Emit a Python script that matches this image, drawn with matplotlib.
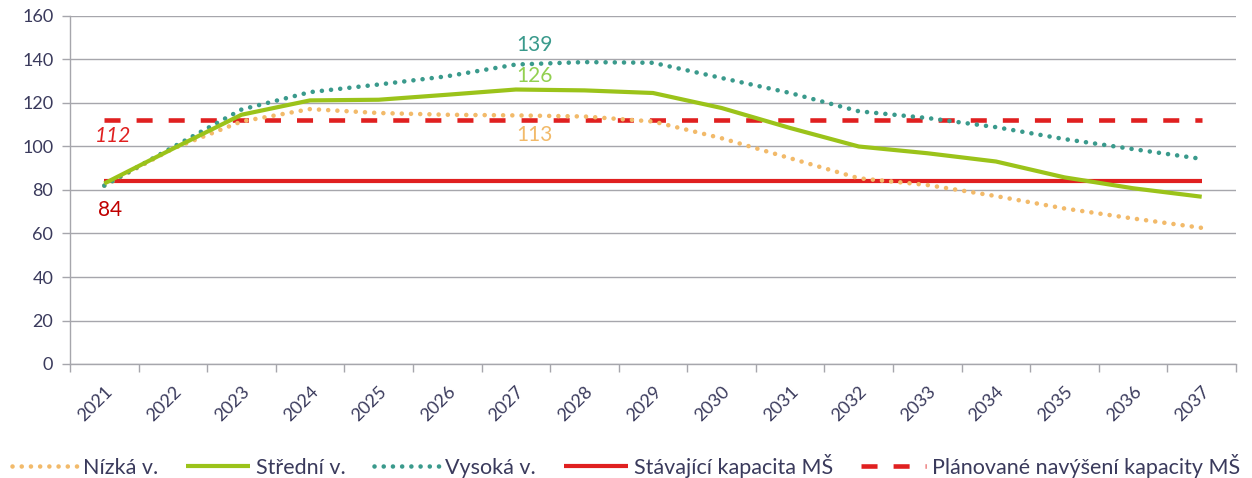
import matplotlib
matplotlib.use("Agg")
import matplotlib.pyplot as plt
import numpy as np

years = [str(y) for y in range(2021, 2038)]
nizka = [82, 99, 111.5, 117.2, 115.4, 114.6, 114.3, 113.8, 111.5, 103.8, 94.6, 85.4, 82.3, 77.2, 71.5, 66.9, 62.6]
stredni = [83, 99, 114.6, 121.2, 121.5, 123.8, 126.2, 125.8, 124.6, 117.7, 108.5, 100, 96.9, 93.1, 85.8, 80.8, 76.9]
vysoka = [82, 99.7, 117, 125, 128.5, 132.3, 137.7, 138.8, 138.5, 131.5, 124.6, 116.2, 113.1, 108.9, 103.4, 98.8, 94.3]
stavajici = [84] * 17
planovane = [112] * 17
yticks = list(range(0, 161, 20))

plt.rcParams['font.family'] = ['Lato', 'DejaVu Sans']
txt_color = '#3A3A5C'
grid_color = '#A6A6AC'

fig = plt.figure(figsize=(12.52, 4.78), dpi=100)
ax = fig.add_axes([70/1252, 1-364/478, (1236-70)/1252, (364-16)/478])

x = np.arange(len(years))
c_orange = '#F2BA6A'
c_green = '#9BC31A'
c_teal = '#3A9A8C'
c_red = '#E02020'

dot = (0, (0.01, 2.0))
l1, = ax.plot(x, nizka, color=c_orange, lw=3.3, linestyle=dot, dash_capstyle='round', label='Nízká v.', zorder=3)
l2, = ax.plot(x, stredni, color=c_green, lw=3.0, label='Střední v.', zorder=4, solid_capstyle='butt')
l3, = ax.plot(x, vysoka, color=c_teal, lw=3.3, linestyle=dot, dash_capstyle='round', label='Vysoká v.', zorder=3)
l4, = ax.plot(x, stavajici, color=c_red, lw=3.0, label='Stávající kapacita MŠ', zorder=2, solid_capstyle='butt')
l5, = ax.plot(x, planovane, color=c_red, lw=3.3, linestyle=(0, (3.5, 3.5)), label='Plánované navýšení kapacity MŠ', zorder=2)

ax.set_xlim(-0.5, len(years) - 0.5)
ax.set_ylim(0, 160)
ax.set_yticks(yticks)
ax.set_yticklabels([str(v) for v in yticks], fontsize=13, color=txt_color)
ax.set_xticks(x)
ax.set_xticklabels(years, rotation=45, ha='right', va='top', rotation_mode='anchor', fontsize=13, color=txt_color)
ax.set_xticks(np.arange(-0.5, len(years)), minor=True)
ax.tick_params(axis='x', which='major', length=0, pad=14)
ax.tick_params(axis='x', which='minor', length=6, color=grid_color, width=1)
ax.tick_params(axis='y', length=6, color=grid_color, width=1, pad=6)
ax.grid(axis='y', color=grid_color, lw=1)
ax.set_axisbelow(True)
for s in ['top', 'right']:
    ax.spines[s].set_visible(False)
for s in ['left', 'bottom']:
    ax.spines[s].set_color(grid_color)
    ax.spines[s].set_linewidth(1)

ax.text(6.27, 146.5, '139', color=c_teal, fontsize=15, ha='center', va='center')
ax.text(6.27, 132.4, '126', color='#92D050', fontsize=15, ha='center', va='center')
ax.text(6.27, 105.3, '113', color=c_orange, fontsize=15, ha='center', va='center')
ax.text(0.13, 104.8, '112', color=c_red, fontsize=15, ha='center', va='center', style='italic')
ax.text(0.08, 70.8, '84', color='#C00000', fontsize=15, ha='center', va='center')

leg = fig.legend(handles=[l1, l2, l3, l4, l5], loc='center', bbox_to_anchor=(0.5, 1-466/478),
                 ncol=5, frameon=False, fontsize=15.5, handlelength=3.0, handletextpad=0.28,
                 columnspacing=1.3, labelcolor=txt_color)

fig.savefig('out.png', dpi=100)
